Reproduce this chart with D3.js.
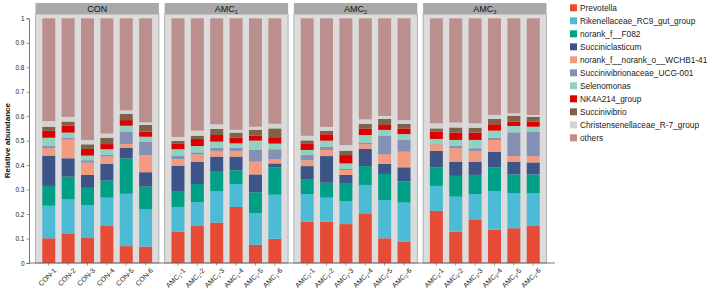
<!DOCTYPE html>
<html>
<head>
<meta charset="utf-8">
<script src="https://cdn.jsdelivr.net/npm/d3@7"></script>
<style>
  body { margin: 0; background: #fff; }
  text { font-family: "Liberation Sans", Arial, sans-serif; }
</style>
</head>
<body>
<div id="chart"></div>
<script>
// groups and samples
const groups = ["CON", "AMC1", "AMC2", "AMC3"];
const samples = [
  "CON-1", "CON-2", "CON-3", "CON-4", "CON-5", "CON-6",
  "AMC1-1", "AMC1-2", "AMC1-3", "AMC1-4", "AMC1-5", "AMC1-6",
  "AMC2-1", "AMC2-2", "AMC2-3", "AMC2-4", "AMC2-5", "AMC2-6",
  "AMC3-1", "AMC3-2", "AMC3-3", "AMC3-4", "AMC3-5", "AMC3-6"
];

// relative abundance per genus, one value per sample (same order as samples)
const prevotella   = [0.101,0.121,0.102,0.151,0.069,0.067, 0.128,0.151,0.165,0.229,0.074,0.099, 0.169,0.169,0.159,0.203,0.101,0.087, 0.213,0.128,0.176,0.136,0.142,0.151];
const rikenellaceae = [0.133,0.139,0.135,0.116,0.214,0.152, 0.101,0.097,0.128,0.094,0.130,0.180, 0.113,0.098,0.094,0.116,0.156,0.160, 0.102,0.143,0.106,0.158,0.143,0.134];
const f082         = [0.081,0.093,0.070,0.070,0.145,0.093, 0.065,0.075,0.083,0.056,0.085,0.111, 0.061,0.061,0.071,0.077,0.107,0.087, 0.075,0.085,0.078,0.096,0.077,0.077];
const succiniclasticum = [0.124,0.075,0.053,0.068,0.042,0.059, 0.104,0.091,0.059,0.056,0.073,0.017, 0.053,0.109,0.036,0.070,0.041,0.057, 0.068,0.058,0.054,0.065,0.052,0.049];
const wchb141      = [0.030,0.077,0.050,0.030,0.016,0.070, 0.026,0.030,0.023,0.023,0.052,0.017, 0.024,0.025,0.020,0.019,0.039,0.064, 0.027,0.055,0.044,0.048,0.023,0.026];
const ucg001       = [0.009,0.006,0.010,0.008,0.051,0.055, 0.015,0.008,0.013,0.013,0.048,0.041, 0.021,0.013,0.004,0.007,0.075,0.048, 0.001,0.009,0.011,0.009,0.097,0.100];
const selenomonas  = [0.034,0.022,0.019,0.022,0.024,0.020, 0.026,0.026,0.025,0.018,0.038,0.023, 0.021,0.025,0.023,0.031,0.025,0.024, 0.021,0.025,0.034,0.029,0.026,0.020];
const nk4a214      = [0.028,0.028,0.027,0.021,0.023,0.021, 0.024,0.029,0.027,0.023,0.020,0.026, 0.027,0.026,0.034,0.027,0.020,0.023, 0.030,0.030,0.030,0.026,0.018,0.021];
const succinivibrio = [0.017,0.017,0.019,0.026,0.025,0.027, 0.010,0.013,0.025,0.021,0.025,0.036, 0.012,0.014,0.018,0.019,0.025,0.019, 0.013,0.021,0.020,0.022,0.024,0.019];
const christensen  = [0.023,0.019,0.018,0.017,0.015,0.011, 0.016,0.021,0.019,0.011,0.012,0.019, 0.019,0.016,0.023,0.018,0.012,0.015, 0.021,0.020,0.018,0.016,0.010,0.008];
const others       = [0.420,0.403,0.497,0.471,0.376,0.425, 0.485,0.459,0.433,0.456,0.443,0.431, 0.480,0.444,0.518,0.413,0.399,0.416, 0.429,0.426,0.429,0.395,0.388,0.395];

const taxa = [
  "Prevotella", "Rikenellaceae_RC9_gut_group", "norank_f__F082", "Succiniclasticum",
  "norank_f__norank_o__WCHB1-41", "Succinivibrionaceae_UCG-001", "Selenomonas",
  "NK4A214_group", "Succinivibrio", "Christensenellaceae_R-7_group", "others"
];
const series = [prevotella, rikenellaceae, f082, succiniclasticum, wchb141, ucg001,
  selenomonas, nk4a214, succinivibrio, christensen, others];
const colors = ["#e64b35", "#4dbbd5", "#00a087", "#3c5488", "#f39b7f", "#8491b4",
  "#91d1c2", "#dc0000", "#7e6148", "#d3d3d3", "#bc8f8f"];

const width = 708, height = 290;
const svg = d3.select("#chart").append("svg")
  .attr("width", width)
  .attr("height", height);

// build table for stacking
const table = samples.map((s, i) => {
  const row = { sample: s, group: s.split("-")[0] };
  taxa.forEach((t, k) => { row[t] = series[k][i]; });
  return row;
});
const stacked = d3.stack().keys(taxa)(table);

const y = d3.scaleLinear().domain([0, 1]).range([263, 18.3]);
const panelX = d3.scaleBand().domain(groups).range([35.5, 546.5]).paddingInner(0.045);
const color = d3.scaleOrdinal().domain(taxa).range(colors);

const stripTop = 3, stripH = 11;

// panels
groups.forEach(g => {
  const px = panelX(g);
  const pw = panelX.bandwidth();
  const sub = samples.filter(s => s.split("-")[0] === g);
  const x = d3.scaleBand().domain(sub).range([px, px + pw]).paddingInner(0.33).paddingOuter(0.35);

  svg.append("rect")
    .attr("x", px).attr("y", stripTop + stripH)
    .attr("width", pw).attr("height", y(0) - stripTop - stripH)
    .attr("fill", "#dcdcdc")
    .attr("stroke", "#a3a3a3")
    .attr("stroke-width", 0.8);

  svg.append("rect")
    .attr("x", px).attr("y", stripTop)
    .attr("width", pw).attr("height", stripH)
    .attr("fill", "#a9a9a9");

  const label = svg.append("text")
    .attr("x", px + pw / 2).attr("y", stripTop + stripH / 2 + 3.2)
    .attr("text-anchor", "middle")
    .style("font-size", "9px")
    .attr("fill", "#111");
  if (g === "CON") {
    label.text("CON");
  } else {
    label.append("tspan").text("AMC");
    label.append("tspan").attr("dy", 2).style("font-size", "5.5px").text(g.slice(3));
  }

  const gBars = svg.append("g");
  stacked.forEach(layer => {
    gBars.append("g")
      .attr("fill", color(layer.key))
      .selectAll("rect")
      .data(layer.filter(d => d.data.group === g))
      .join("rect")
      .attr("x", d => x(d.data.sample))
      .attr("width", x.bandwidth())
      .attr("y", d => y(d[1]))
      .attr("height", d => y(d[0]) - y(d[1]));
  });

  // x ticks and labels
  sub.forEach(s => {
    const cx = x(s) + x.bandwidth() / 2;
    svg.append("line")
      .attr("x1", cx).attr("x2", cx)
      .attr("y1", y(0)).attr("y2", y(0) + 2.5)
      .attr("stroke", "#444").attr("stroke-width", 0.6);
    const t = svg.append("text")
      .attr("transform", `translate(${cx + 8},${y(0) + 8}) rotate(-45)`)
      .attr("text-anchor", "end")
      .style("font-size", "7px")
      .attr("fill", "#222");
    const num = s.split("-")[1];
    if (g === "CON") {
      t.text(s);
    } else {
      t.append("tspan").text("AMC");
      t.append("tspan").attr("dy", 1.5).style("font-size", "4.5px").text(g.slice(3));
      t.append("tspan").attr("dy", -1.5).text("-" + num);
    }
  });
});

// x axis baseline
svg.append("line")
  .attr("x1", 29).attr("x2", 555)
  .attr("y1", y(0)).attr("y2", y(0))
  .attr("stroke", "#555").attr("stroke-width", 0.8);

// y axis
const yAxis = svg.append("g")
  .attr("transform", "translate(29,0)")
  .call(d3.axisLeft(y).ticks(10).tickSize(2.5).tickPadding(2).tickFormat(d3.format("")));
yAxis.select(".domain").attr("stroke", "#555").attr("stroke-width", 0.8);
yAxis.selectAll(".tick line").attr("stroke", "#555").attr("stroke-width", 0.6);
yAxis.selectAll(".tick text")
  .style("font-size", "6.5px")
  .style("font-family", "'Liberation Sans', Arial, sans-serif")
  .attr("fill", "#222");

svg.append("text")
  .attr("transform", `translate(9.5,${(y(0) + y(1)) / 2}) rotate(-90)`)
  .attr("text-anchor", "middle")
  .style("font-size", "8px")
  .style("font-weight", "bold")
  .attr("fill", "#111")
  .text("Relative abundance");

// legend
const legend = svg.append("g").attr("transform", "translate(570,4.3)");
taxa.forEach((t, i) => {
  legend.append("rect")
    .attr("x", 0).attr("y", i * 13)
    .attr("width", 7).attr("height", 7)
    .attr("fill", color(t));
  legend.append("text")
    .attr("x", 10).attr("y", i * 13 + 6.3)
    .style("font-size", "8.3px")
    .attr("fill", "#222")
    .text(t);
});
</script>
</body>
</html>
